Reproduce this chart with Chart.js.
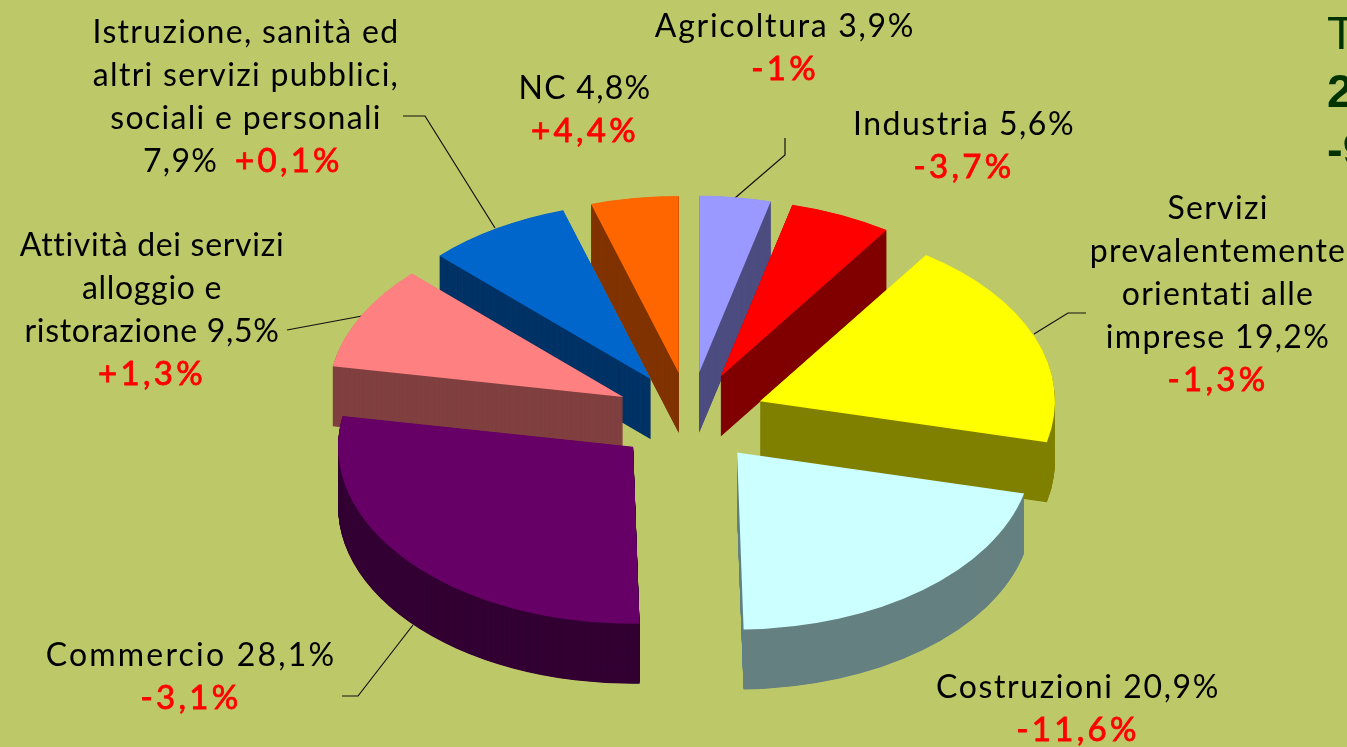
<!DOCTYPE html>
<html>
<head>
<meta charset="utf-8">
<style>
  html, body { margin: 0; padding: 0; background: #bdc868; overflow: hidden; }
  canvas { display: block; }
</style>
<script src="https://cdn.jsdelivr.net/npm/chart.js@4"></script>
</head>
<body>
<canvas id="chart" width="1347" height="747"></canvas>
<script>
// clockwise from the top, like the original
const categories = ["Agricoltura", "Industria", "Servizi prevalentemente orientati alle imprese", "Costruzioni", "Commercio", "Attività dei servizi alloggio e ristorazione", "Istruzione, sanità ed altri servizi pubblici, sociali e personali", "NC"];
const shares = [3.9, 5.6, 19.2, 20.9, 28.1, 9.5, 7.9, 4.8];
const changes = [-1, -3.7, -1.3, -11.6, -3.1, 1.3, 0.1, 4.4];
const topColors = ["#9999ff", "#ff0000", "#ffff00", "#ccffff", "#660066", "#ff8080", "#0066cc", "#ff6600"];
const wallColors = ["#4d4d80", "#800000", "#808000", "#668080", "#330033", "#804040", "#003366", "#803300"];
const titleRows = ["T", "2", "-9"];

// how each label wraps, the share goes on the last line
const labelLines = [
  ["Agricoltura"],
  ["Industria"],
  ["Servizi", "prevalentemente", "orientati alle", "imprese"],
  ["Costruzioni"],
  ["Commercio"],
  ["Attività dei servizi", "alloggio e", "ristorazione"],
  ["Istruzione, sanità ed", "altri servizi pubblici,", "sociali e personali"],
  ["NC"],
];
// center x, first baseline
const labelSpots = [[785, 37], [964, 135], [1218, 219], [1078, 698], [191, 666], [152, 256], [246, 43], [585, 99]];
// letter spacing per label, the digits of the original font run wider
const labelTracking = [1.7, 1.5, 1.3, 1.6, 2.2, 0.7, 1.3, 1.3];
const leaders = [
  [[735, 198], [785, 155], [785, 138]],
  [[287, 330], [362, 316]],
  [[403, 116], [425, 116], [495, 228]],
  [[1034, 334], [1068, 313], [1086, 313]],
  [[342, 696], [358, 696], [413, 625]],
];

const TILT = 0.6;
const EXPLODE = 75;
const DEPTH = 60;
const LINE_GAP = 43;
const FONT = "32px Lato";
const RED_FONT = "33px Lato";
const drawOrder = [0, 7, 1, 6, 2, 5, 3, 4];

const num = (v) => String(v).replace(".", ",");
const signed = (v) => (v > 0 ? "+" : "") + num(v) + "%";

const pie3d = {
  id: "pie3d",
  beforeDatasetDraw(chart) {
    const ctx = chart.ctx;
    const arcs = chart.getDatasetMeta(0).data;

    ctx.strokeStyle = "#111";
    ctx.lineWidth = 1.2;
    leaders.forEach((pts) => {
      ctx.beginPath();
      pts.forEach((p, i) => (i ? ctx.lineTo(p[0], p[1]) : ctx.moveTo(p[0], p[1])));
      ctx.stroke();
    });

    drawOrder.forEach((i) => {
      const arc = arcs[i];
      const mid = (arc.startAngle + arc.endAngle) / 2;
      const ex = Math.cos(mid) * EXPLODE;
      const ey = Math.sin(mid) * EXPLODE;
      const place = (down) => {
        ctx.save();
        ctx.translate(ex, arc.y + ey * TILT + down);
        ctx.scale(1, TILT);
        ctx.translate(0, -arc.y);
        arc.draw(ctx);
        ctx.restore();
      };
      // the side is the same slice repeated going down
      const own = arc.options;
      arc.options = { backgroundColor: wallColors[i], borderWidth: 0, borderRadius: 0, borderAlign: "center", offset: 0, spacing: 0, circular: true };
      for (let d = DEPTH; d > 0; d -= 0.5) place(d);
      arc.options = own;
      place(0);
    });
    return false;
  },
  afterDraw(chart) {
    const ctx = chart.ctx;
    const redText = (t, x, y) => {
      ctx.font = RED_FONT;
      ctx.letterSpacing = "3.3px";
      ctx.fillStyle = "#ff0000";
      ctx.strokeStyle = "#ff0000";
      ctx.lineWidth = 0.8;
      ctx.fillText(t, x, y);
      ctx.strokeText(t, x, y);
      ctx.font = FONT;
      ctx.fillStyle = "#000";
    };
    ctx.save();
    ctx.textBaseline = "alphabetic";
    ctx.textAlign = "center";
    ctx.font = FONT;
    ctx.fillStyle = "#000";
    labelLines.forEach((lines, i) => {
      const [x, y] = labelSpots[i];
      const rows = lines.slice();
      ctx.letterSpacing = labelTracking[i] + "px";
      if (i === 6) {
        // this one keeps share and change on the same row
        rows.forEach((t, r) => ctx.fillText(t, x, y + r * LINE_GAP));
        ctx.textAlign = "left";
        ctx.fillText(num(shares[i]) + "%", x - 103, y + rows.length * LINE_GAP);
        redText(signed(changes[i]), x - 11, y + rows.length * LINE_GAP);
        ctx.textAlign = "center";
        return;
      }
      rows[rows.length - 1] += " " + num(shares[i]) + "%";
      rows.forEach((t, r) => ctx.fillText(t, x, y + r * LINE_GAP));
      redText(signed(changes[i]), x, y + rows.length * LINE_GAP);
    });

    ctx.letterSpacing = "0px";
    ctx.textAlign = "left";
    ctx.fillStyle = "#003300";
    titleRows.forEach((t, r) => {
      ctx.font = (r ? "bold " : "") + "47px 'Liberation Sans'";
      ctx.fillText(t, 1327, 49 + r * 58);
    });
    ctx.restore();
  },
};

new Chart(document.getElementById("chart"), {
  type: "pie",
  data: {
    labels: categories,
    datasets: [{ data: shares, backgroundColor: topColors, borderWidth: 0, radius: 295 }],
  },
  options: {
    responsive: false,
    animation: false,
    layout: { padding: { left: 33, top: 88 } },
    plugins: { legend: { display: false }, tooltip: { enabled: false } },
  },
  plugins: [pie3d],
});
</script>
</body>
</html>
